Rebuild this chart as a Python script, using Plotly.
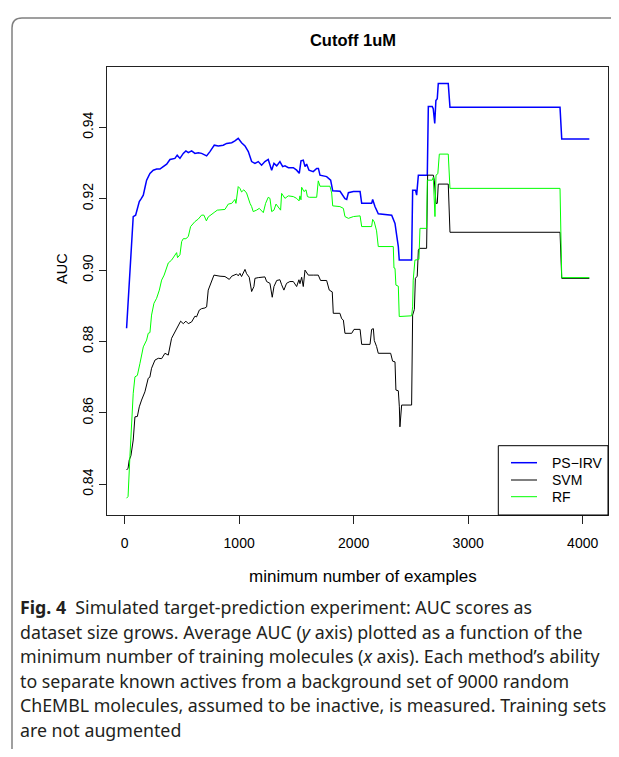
import plotly.graph_objects as go

# ---------------- data ----------------
ps_irv_x = [17, 45, 66, 75, 96, 110, 128, 145, 163, 180, 192, 221, 250, 280, 308, 337, 367, 396,
            439, 459, 483, 512, 535, 556, 585, 614, 643, 672, 716, 745, 783, 818, 861, 891, 935,
            963, 992, 1021, 1051, 1080, 1109, 1138, 1167, 1196, 1225, 1254, 1284, 1304, 1328,
            1356, 1380, 1400, 1430, 1473, 1502, 1525, 1540, 1560, 1575, 1589, 1610, 1647, 1677,
            1692, 1706, 1764, 1799, 1817, 1881, 1924, 1939, 1954, 1998, 2056, 2070, 2157, 2166,
            2186, 2215, 2332, 2346, 2361, 2375, 2390, 2398, 2506, 2515, 2540, 2550, 2565, 2643,
            2652, 2686, 2695, 2708, 2718, 2730, 2739, 2826, 2841, 3802, 3817, 4058]
ps_irv_y = [0.8837, 0.8975, 0.9084, 0.9150, 0.9154, 0.9170, 0.9192, 0.9200, 0.9210, 0.9235, 0.9252,
            0.9271, 0.9280, 0.9283, 0.9283, 0.9290, 0.9297, 0.9310, 0.9313, 0.9322, 0.9313, 0.9327,
            0.9334, 0.9329, 0.9334, 0.9327, 0.9329, 0.9327, 0.9320, 0.9332, 0.9350, 0.9348, 0.9350,
            0.9355, 0.9357, 0.9362, 0.9369, 0.9357, 0.9348, 0.9332, 0.9304, 0.9299, 0.9304, 0.9294,
            0.9304, 0.9310, 0.9280, 0.9299, 0.9292, 0.9304, 0.9290, 0.9292, 0.9287, 0.9287, 0.9280,
            0.9271, 0.9306, 0.9308, 0.9290, 0.9297, 0.9280, 0.9276, 0.9285, 0.9285, 0.9266, 0.9262,
            0.9252, 0.9222, 0.9221, 0.9200, 0.9198, 0.9217, 0.9220, 0.9220, 0.9187, 0.9187, 0.9198,
            0.9178, 0.9158, 0.9154, 0.9140, 0.9131, 0.9099, 0.9066, 0.9028, 0.9028, 0.9224, 0.9224,
            0.9210, 0.9266, 0.9266, 0.9458, 0.9458, 0.9452, 0.9411, 0.9475, 0.9480, 0.9523, 0.9523,
            0.9456, 0.9456, 0.9367, 0.9367]

svm_x = [17, 30, 40, 55, 75, 90, 111, 128, 148, 177, 206, 220, 235, 265, 294, 323, 352, 381, 410,
         439, 468, 489, 512, 535, 556, 585, 614, 628, 652, 672, 701, 716, 730, 751, 774, 780, 833,
         876, 914, 935, 978, 992, 1007, 1021, 1051, 1065, 1088, 1109, 1129, 1138, 1167, 1196, 1225,
         1240, 1269, 1289, 1304, 1328, 1356, 1371, 1391, 1414, 1443, 1473, 1502, 1522, 1531, 1546,
         1560, 1575, 1604, 1647, 1691, 1711, 1764, 1787, 1813, 1822, 1880, 1895, 1910, 1924, 1983,
         2003, 2056, 2070, 2143, 2157, 2172, 2180, 2200, 2215, 2323, 2340, 2361, 2369, 2390, 2399,
         2404, 2419, 2506, 2515, 2530, 2539, 2555, 2565, 2575, 2637, 2646, 2696, 2704, 2719, 2730,
         2739, 2826, 2841, 3802, 3817, 4058]
svm_y = [0.8440, 0.8445, 0.8468, 0.8480, 0.8524, 0.8589, 0.8590, 0.8617, 0.8636, 0.8659, 0.8697,
         0.8700, 0.8725, 0.8748, 0.8753, 0.8752, 0.8767, 0.8762, 0.8809, 0.8827, 0.8846, 0.8857,
         0.8850, 0.8857, 0.8850, 0.8855, 0.8871, 0.8869, 0.8888, 0.8892, 0.8894, 0.8897, 0.8944,
         0.8961, 0.8982, 0.8986, 0.8983, 0.8982, 0.8974, 0.8983, 0.8989, 0.8984, 0.8991, 0.8982,
         0.9002, 0.8990, 0.8980, 0.8940, 0.8954, 0.8977, 0.8979, 0.8981, 0.8981, 0.8968, 0.8963,
         0.8924, 0.8954, 0.8971, 0.8973, 0.8959, 0.8944, 0.8963, 0.8968, 0.8968, 0.8954, 0.8973,
         0.8962, 0.8980, 0.8954, 0.9000, 0.8986, 0.8986, 0.8986, 0.8971, 0.8971, 0.8944, 0.8939,
         0.8879, 0.8879, 0.8864, 0.8860, 0.8823, 0.8823, 0.8834, 0.8834, 0.8792, 0.8792, 0.8834,
         0.8836, 0.8803, 0.8786, 0.8767, 0.8767, 0.8745, 0.8743, 0.8664, 0.8662, 0.8617, 0.8561,
         0.8622, 0.8622, 0.8874, 0.8890, 0.8977, 0.8983, 0.9056, 0.9061, 0.9061, 0.9266, 0.9266,
         0.9252, 0.9187, 0.9187, 0.9241, 0.9241, 0.9106, 0.9106, 0.8977, 0.8977]

rf_x = [17, 30, 46, 61, 75, 90, 111, 134, 148, 163, 192, 206, 221, 235, 256, 279, 303, 323, 345,
        367, 381, 410, 425, 454, 462, 483, 498, 512, 535, 556, 576, 614, 643, 672, 692, 714, 730,
        759, 788, 809, 847, 876, 905, 935, 963, 972, 992, 1007, 1021, 1041, 1065, 1080, 1095, 1109,
        1123, 1152, 1176, 1211, 1231, 1254, 1269, 1284, 1304, 1322, 1342, 1362, 1371, 1386, 1400,
        1429, 1473, 1502, 1523, 1531, 1540, 1546, 1566, 1584, 1596, 1613, 1677, 1691, 1706, 1793,
        1808, 1817, 1880, 1910, 1924, 1954, 1998, 2056, 2070, 2157, 2166, 2180, 2200, 2215, 2346,
        2352, 2361, 2369, 2390, 2398, 2506, 2515, 2520, 2535, 2570, 2579, 2637, 2643, 2686, 2695,
        2710, 2719, 2735, 2748, 2826, 2841, 3802, 3817, 4058]
rf_y = [0.8361, 0.8366, 0.8477, 0.8589, 0.8655, 0.8701, 0.8705, 0.8739, 0.8767, 0.8785, 0.8804,
        0.8823, 0.8825, 0.8874, 0.8907, 0.8921, 0.8944, 0.8972, 0.8986, 0.9010, 0.9020, 0.9028,
        0.9034, 0.9049, 0.9035, 0.9043, 0.9080, 0.9088, 0.9088, 0.9094, 0.9122, 0.9136, 0.9143,
        0.9154, 0.9154, 0.9138, 0.9149, 0.9157, 0.9163, 0.9168, 0.9170, 0.9170, 0.9185, 0.9187,
        0.9198, 0.9187, 0.9234, 0.9229, 0.9219, 0.9225, 0.9216, 0.9198, 0.9187, 0.9178, 0.9164,
        0.9168, 0.9173, 0.9161, 0.9187, 0.9204, 0.9201, 0.9164, 0.9168, 0.9185, 0.9176, 0.9168,
        0.9215, 0.9206, 0.9201, 0.9208, 0.9206, 0.9201, 0.9194, 0.9208, 0.9197, 0.9232, 0.9220,
        0.9225, 0.9206, 0.9204, 0.9204, 0.9250, 0.9235, 0.9235, 0.9216, 0.9180, 0.9178, 0.9173,
        0.9150, 0.9145, 0.9150, 0.9152, 0.9122, 0.9122, 0.9142, 0.9135, 0.9110, 0.9066, 0.9066,
        0.9006, 0.9005, 0.8958, 0.8955, 0.8870, 0.8872, 0.8897, 0.8972, 0.9028, 0.9030, 0.9117,
        0.9117, 0.9252, 0.9252, 0.9260, 0.9150, 0.9266, 0.9270, 0.9325, 0.9325, 0.9229, 0.9229,
        0.8979, 0.8979]

series_names = ["PS−IRV", "SVM", "RF"]
series_colors = ["#0000ff", "#000000", "#00ff00"]

x_ticks = [0, 1000, 2000, 3000, 4000]
y_ticks = [0.84, 0.86, 0.88, 0.90, 0.92, 0.94]
y_tick_labels = ["0.84", "0.86", "0.88", "0.90", "0.92", "0.94"]

caption_lines = [
    "<b>Fig. 4</b>  Simulated target-prediction experiment: AUC scores as",
    "dataset size grows. Average AUC (<i>y</i> axis) plotted as a function of the",
    "minimum number of training molecules (<i>x</i> axis). Each method’s ability",
    "to separate known actives from a background set of 9000 random",
    "ChEMBL molecules, assumed to be inactive, is measured. Training sets",
    "are not augmented",
]

# ---------------- layout geometry ----------------
# The page body has an 8px margin; the figure is made 8px smaller on the
# left/top side and 16px smaller in height so the page does not scroll.
# All positions below are given in reference-image pixels and converted.
OFF = 8
W, H = 619 - OFF, 757 - 2 * OFF
ML, MR, MT, MB = 99, 11, 59, 234
PW, PH = W - ML - MR, H - MT - MB
BOX_L, BOX_B = ML + OFF, H - MB + OFF   # plot box left / bottom in reference pixels


def xp(px):
    return (px - BOX_L) / PW


def yp(py):
    return (BOX_B - py) / PH


FONT = "Liberation Sans, Arial, Helvetica, sans-serif"

fig = go.Figure()
for xs, ys, nm, col, lw in [(ps_irv_x, ps_irv_y, series_names[0], series_colors[0], 1.5),
                            (svm_x, svm_y, series_names[1], series_colors[1], 1),
                            (rf_x, rf_y, series_names[2], series_colors[2], 1)]:
    fig.add_trace(go.Scatter(x=xs, y=ys, mode="lines", name=nm,
                             line=dict(color=col, width=lw)))

fig.update_layout(
    width=W, height=H,
    margin=dict(l=ML, r=MR, t=MT, b=MB, pad=0),
    paper_bgcolor="white", plot_bgcolor="white",
    font=dict(family=FONT, size=14, color="black"),
    showlegend=False,
    title=dict(text="<b>Cutoff 1uM</b>", xref="paper", x=xp(353), xanchor="center",
               yref="container", y=1 - (40 - OFF) / H, yanchor="middle",
               font=dict(family=FONT, size=16.5, color="black")),
)

fig.update_xaxes(range=[-154, 4221], tickmode="array", tickvals=x_ticks,
                 ticktext=[str(v) for v in x_ticks],
                 showgrid=False, zeroline=False,
                 showline=True, mirror=True, linecolor="#222", linewidth=1,
                 ticks="outside", ticklen=8, tickcolor="#222", tickwidth=1,
                 ticklabelstandoff=7,
                 tickfont=dict(family=FONT, size=14, color="black"))
fig.update_yaxes(range=[0.8314, 0.9569], tickmode="array", tickvals=y_ticks,
                 ticktext=y_tick_labels, tickangle=-90,
                 showgrid=False, zeroline=False,
                 showline=True, mirror=True, linecolor="#222", linewidth=1,
                 ticks="outside", ticklen=7, tickcolor="#222", tickwidth=1,
                 tickfont=dict(family=FONT, size=14, color="black"))

annotations = [
    dict(text="minimum number of examples", xref="paper", yref="paper",
         x=xp(363), y=yp(576), xanchor="center", yanchor="middle", showarrow=False,
         font=dict(family=FONT, size=17, color="black")),
    dict(text="AUC", xref="paper", yref="paper", textangle=-90,
         x=xp(62), y=yp(269), xanchor="center", yanchor="middle", showarrow=False,
         font=dict(family=FONT, size=14.5, color="black")),
]

# legend (bottom-right box, R style)
leg_l, leg_t, leg_r, leg_b = 498.3, 445.7, 608, 515
leg_rows = [462.7, 480, 496.7]
shapes = [dict(type="rect", xref="paper", yref="paper",
               x0=xp(leg_l), x1=xp(leg_r), y0=yp(leg_b), y1=yp(leg_t),
               line=dict(color="black", width=1), fillcolor="white", layer="above")]
for nm, col, ry in zip(series_names, series_colors, leg_rows):
    shapes.append(dict(type="line", xref="paper", yref="paper",
                       x0=xp(511), x1=xp(537), y0=yp(ry), y1=yp(ry),
                       line=dict(color=col, width=1.5 if col == "#0000ff" else 1),
                       layer="above"))
    annotations.append(dict(text=nm, xref="paper", yref="paper",
                            x=xp(550), y=yp(ry), xanchor="left", yanchor="middle",
                            showarrow=False,
                            font=dict(family=FONT, size=14, color="black")))

cap_y0, cap_dy = 607, 24.5
for i, line in enumerate(caption_lines):
    annotations.append(dict(text=line, xref="paper", yref="paper",
                            x=xp(18), y=yp(cap_y0 + i * cap_dy),
                            xanchor="left", yanchor="middle", showarrow=False,
                            align="left",
                            font=dict(family="Noto Sans", size=17.8, color="#231f20")))

# outer rounded frame of the figure panel (left and top edges)
r = 10
fx, fy_top, fy_bot, fx_right = 12, 18, 754, 640
path = (f"M {xp(fx)},{yp(fy_bot)} L {xp(fx)},{yp(fy_top + r)} "
        f"Q {xp(fx)},{yp(fy_top)} {xp(fx + r)},{yp(fy_top)} L {xp(fx_right)},{yp(fy_top)}")
shapes.append(dict(type="path", path=path, xref="paper", yref="paper",
                   line=dict(color="#808080", width=1.5), layer="above"))

fig.update_layout(annotations=annotations, shapes=shapes)

fig.write_html("out.html")
